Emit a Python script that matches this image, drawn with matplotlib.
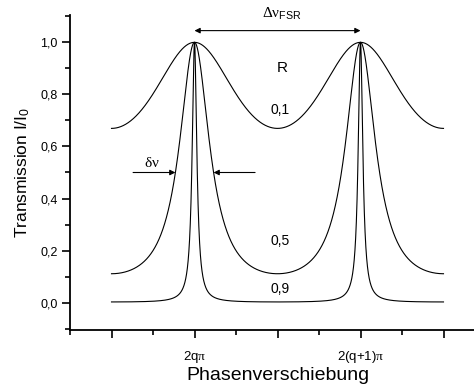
import numpy as np
import matplotlib
matplotlib.use("Agg")
import matplotlib.pyplot as plt

plt.rcParams['font.family'] = ['Liberation Sans', 'DejaVu Sans']
plt.rcParams['mathtext.fontset'] = 'custom'
plt.rcParams['mathtext.rm'] = 'Liberation Serif'
plt.rcParams['mathtext.it'] = 'Liberation Serif:italic'
plt.rcParams['mathtext.sf'] = 'Liberation Sans'

# Data: reflectivities of the three Airy curves (labels in the chart)
reflectivities = [0.1, 0.5, 0.9]
curve_labels = ['0,1', '0,5', '0,9']
phase_start, phase_end = -np.pi, 3 * np.pi  # plotted phase range (relative to 2q*pi)
xtick_pos = [-np.pi, 0, np.pi, 2 * np.pi, 3 * np.pi]
xtick_labels = ['', r'2q$\mathrm{\pi}$', '', r'2(q+1)$\mathrm{\pi}$', '']
ytick_pos = [0.0, 0.2, 0.4, 0.6, 0.8, 1.0]
ytick_labels = ['0,0', '0,2', '0,4', '0,6', '0,8', '1,0']

fig = plt.figure(figsize=(4.74, 3.85), dpi=100)
ax = fig.add_axes([70 / 474, 1 - 330 / 385, (485 - 70) / 474, (330 - 15) / 385])

phi = np.linspace(phase_start, phase_end, 8001)
for R in reflectivities:
    F = 4 * R / (1 - R) ** 2
    T = 1.0 / (1.0 + F * np.sin(phi / 2) ** 2)
    ax.plot(phi, T, color='black', lw=0.8)

ax.set_xlim(-1.5 * np.pi, 3.5 * np.pi)
ax.set_ylim(-0.105, 1.105)

ax.set_xticks(xtick_pos)
ax.set_xticklabels(xtick_labels, fontsize=9.5)
ax.set_xticks([-1.5 * np.pi, -0.5 * np.pi, 0.5 * np.pi, 1.5 * np.pi, 2.5 * np.pi], minor=True)
ax.set_yticks(ytick_pos)
ax.set_yticklabels(ytick_labels, fontsize=9)
ax.set_yticks([-0.1, 0.1, 0.3, 0.5, 0.7, 0.9, 1.1], minor=True)

for s in ['top', 'right']:
    ax.spines[s].set_visible(False)
for s in ['left', 'bottom']:
    ax.spines[s].set_linewidth(1.3)
ax.tick_params(which='major', direction='out', length=6, width=1.2)
ax.tick_params(axis='x', which='major', pad=8)
ax.tick_params(axis='y', which='major', pad=3)
ax.tick_params(which='minor', direction='out', length=3.5, width=1.2)

ax.set_xlabel('Phasenverschiebung', fontsize=14, labelpad=1)
ax.set_ylabel(r'Transmission I/I$_{\mathsf{0}}$', fontsize=12.5, labelpad=6)

ax.text(1.06 * np.pi, 0.90, 'R', fontsize=11, ha='center', va='center')
label_y = [0.741, 0.235, 0.052]
for lab, yy in zip(curve_labels, label_y):
    ax.text(1.03 * np.pi, yy, lab, fontsize=10, ha='center', va='center')

# FSR arrow
ax.annotate('', xy=(0, 1.045), xytext=(2 * np.pi, 1.045),
            arrowprops=dict(arrowstyle='<|-|>', lw=0.8, color='black', mutation_scale=8,
                            shrinkA=0, shrinkB=0), annotation_clip=False)
ax.text(1.05 * np.pi, 1.11, r'$\mathrm{\Delta\nu}_{\mathsf{FSR}}$', fontsize=11,
        ha='center', va='center', clip_on=False)

# delta nu arrows
ax.annotate('', xy=(-0.23 * np.pi, 0.5), xytext=(-0.74 * np.pi, 0.5),
            arrowprops=dict(arrowstyle='-|>', lw=0.8, color='black', mutation_scale=8,
                            shrinkA=0, shrinkB=0))
ax.annotate('', xy=(0.23 * np.pi, 0.5), xytext=(0.73 * np.pi, 0.5),
            arrowprops=dict(arrowstyle='-|>', lw=0.8, color='black', mutation_scale=8,
                            shrinkA=0, shrinkB=0))
ax.text(-0.51 * np.pi, 0.537, r'$\mathrm{\delta\nu}$', fontsize=11, ha='center', va='center')

fig.savefig('out.png', dpi=100)
